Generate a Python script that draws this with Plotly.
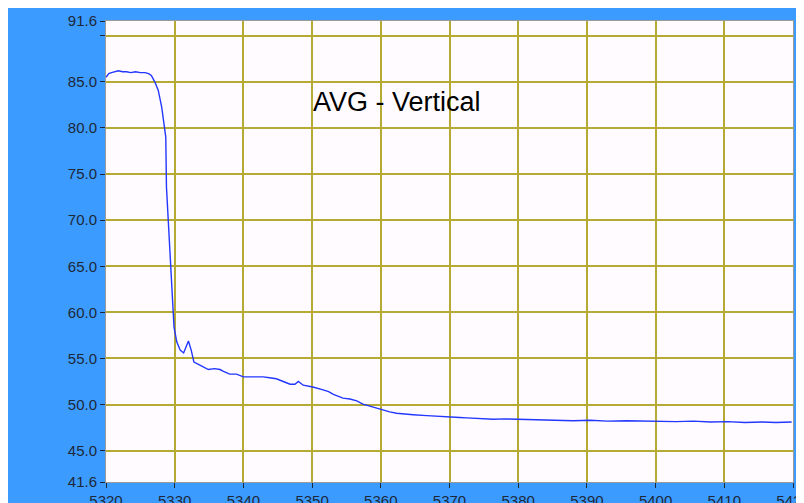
import plotly.graph_objects as go

# ---- data ----
x_vals = [5320.0, 5320.4, 5320.8, 5321.3, 5321.8, 5322.4, 5323.0, 5323.6, 5324.3, 5325.0,
          5325.7, 5326.2, 5326.6, 5327.1, 5327.6, 5328.1, 5328.4, 5328.7, 5328.8, 5329.0,
          5329.3, 5329.5, 5329.7, 5329.9, 5330.3, 5330.8, 5331.3, 5331.7, 5332.0, 5332.4,
          5332.8, 5333.6, 5334.3, 5334.9, 5335.8, 5336.6, 5337.1, 5338.0, 5339.0, 5340.0,
          5341.0, 5342.0, 5342.9, 5343.8, 5344.8, 5345.8, 5346.8, 5347.5, 5348.0, 5348.7,
          5350.1, 5351.6, 5352.4, 5353.1, 5354.5, 5355.5, 5356.5, 5357.4, 5358.9, 5360.4,
          5361.3, 5362.3, 5363.5, 5364.7, 5366.7, 5368.5, 5370.1, 5371.5, 5372.5, 5374.4,
          5376.4, 5378.0, 5379.8, 5383.0, 5386.1, 5388.0, 5390.5, 5393.0, 5395.8, 5398.0,
          5400.5, 5403.0, 5405.5, 5408.0, 5410.5, 5413.0, 5415.5, 5417.5, 5419.8]
y_vals = [85.5, 85.9, 86.0, 86.1, 86.2, 86.1, 86.1, 86.0, 86.1, 86.0,
          86.0, 85.9, 85.7, 85.0, 84.1, 82.3, 80.9, 79.0, 73.6, 70.7,
          67.1, 63.9, 61.3, 58.4, 56.8, 55.9, 55.6, 56.3, 56.9, 55.9,
          54.6, 54.3, 54.0, 53.8, 53.9, 53.8, 53.6, 53.3, 53.3, 53.0,
          53.0, 53.0, 53.0, 52.9, 52.8, 52.5, 52.2, 52.2, 52.5, 52.1,
          51.9, 51.6, 51.4, 51.1, 50.7, 50.6, 50.4, 50.05, 49.7, 49.35,
          49.2, 49.05, 48.95, 48.9, 48.8, 48.75, 48.7, 48.6, 48.55, 48.5,
          48.4, 48.45, 48.4, 48.35, 48.3, 48.25, 48.3, 48.2, 48.25, 48.2,
          48.2, 48.15, 48.2, 48.1, 48.15, 48.05, 48.1, 48.05, 48.1]

x_ticks = [5320, 5330, 5340, 5350, 5360, 5370, 5380, 5390, 5400, 5410, 5420]
y_ticks = [41.6, 45, 50, 55, 60, 65, 70, 75, 80, 85, 90, 91.6]
y_tick_text = ["41.6", "45.0", "50.0", "55.0", "60.0", "65.0", "70.0", "75.0",
               "80.0", "85.0", "", "91.6"]
title_text = "AVG - Vertical"

BLUE = "rgb(60,155,255)"
GRID = "rgb(181,170,52)"
TXT = "#1c2838"

fig = go.Figure()
fig.add_trace(go.Scatter(x=x_vals, y=y_vals, mode="lines",
                         line=dict(color="rgb(35,55,255)", width=1.4),
                         hoverinfo="skip", showlegend=False))

# page body has an 8px margin; figure spans page (8,8)-(804,503)
W, H = 796, 495
L, R, T, B = 98, 11, 13, 21

axis_common = dict(ticks="outside", ticklen=5, tickcolor=TXT, tickwidth=1,
                   showgrid=True, gridcolor=GRID, gridwidth=1.6,
                   zeroline=False, showline=True, linecolor="#9a9a9a", linewidth=1,
                   mirror=True, automargin=False, ticklabeloverflow="allow",
                   tickfont=dict(family="Liberation Sans, Arial", size=15, color=TXT))

fig.update_layout(
    width=W, height=H,
    margin=dict(l=L, r=R, t=T, b=B, pad=0, autoexpand=False),
    paper_bgcolor=BLUE, plot_bgcolor="#fffbff",
    font=dict(family="Liberation Sans, Arial", size=15, color=TXT),
    xaxis=dict(range=[5320, 5420], tickvals=x_ticks, **axis_common),
    yaxis=dict(range=[41.6, 91.6], tickvals=y_ticks, ticktext=y_tick_text,
               **axis_common),
    annotations=[dict(text=title_text, xref="x", yref="y", x=5362.4, y=82.8,
                      showarrow=False, font=dict(family="Liberation Sans, Arial",
                                                 size=27, color="black"))],
)

fig.write_html("out.html")
